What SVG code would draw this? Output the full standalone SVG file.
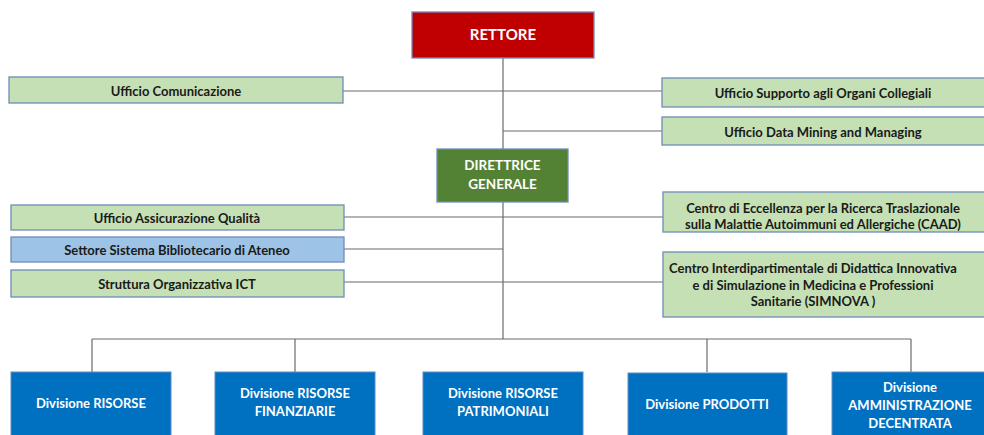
<svg xmlns="http://www.w3.org/2000/svg" width="984" height="435" viewBox="0 0 984 435">
<style>
.b{stroke:#6F8DB8;stroke-width:1.3}
.g{fill:#C5E0B4}
.lb{fill:#9DC3E6}
.dv{fill:#0070C0;stroke:#5E8CC4;stroke-width:1}
.t{font-family:Lato,"Liberation Sans",sans-serif;font-weight:700;font-size:13px;fill:#1a1a1a;text-anchor:middle}
.w{font-family:Lato,"Liberation Sans",sans-serif;font-weight:700;font-size:13px;fill:#fff;text-anchor:middle}
.c{stroke:#6b6b6b;stroke-width:1.2;fill:none}
</style>
<rect width="984" height="435" fill="#fff"/>
<g id="connectors">
<path class="c" d="M503 58V339"/>
<path class="c" d="M343 91H662"/>
<path class="c" d="M503 131H662"/>
<path class="c" d="M344 217H663"/>
<path class="c" d="M344 249H503"/>
<path class="c" d="M344 282H663"/>
<path class="c" d="M92 339H911"/>
<path class="c" d="M92 339V372M295 339V372M707 339V372M911 339V372"/>
</g>
<g id="rettore">
<rect x="412" y="12" width="182" height="46" fill="#C00000" class="b"/>
<text class="w" x="503" y="40" style="font-size:15px">RETTORE</text>
</g>
<g id="direttrice">
<rect x="437" y="149" width="131" height="53" fill="#548235" class="b"/>
<text class="w" x="502.5" y="170" style="font-size:13.5px">DIRETTRICE</text>
<text class="w" x="502.5" y="189" style="font-size:13.5px">GENERALE</text>
</g>
<g id="uff-comunicazione">
<rect x="9" y="77" width="334" height="26" class="g b"/>
<text class="t" x="176" y="96">Ufficio Comunicazione</text>
</g>
<g id="uff-supporto">
<rect x="662" y="78" width="330" height="29" class="g b"/>
<text class="t" x="823" y="97.5">Ufficio Supporto agli Organi Collegiali</text>
</g>
<g id="uff-datamining">
<rect x="662" y="117" width="330" height="28" class="g b"/>
<text class="t" x="823" y="136.5">Ufficio Data Mining and Managing</text>
</g>
<g id="uff-qualita">
<rect x="11" y="205" width="333" height="25" class="g b"/>
<text class="t" x="177" y="222.5">Ufficio Assicurazione Qualità</text>
</g>
<g id="settore-biblio">
<rect x="11" y="237" width="333" height="25" class="lb b"/>
<text class="t" x="177" y="254.5">Settore Sistema Bibliotecario di Ateneo</text>
</g>
<g id="struttura-ict">
<rect x="11" y="270" width="333" height="27" class="g b"/>
<text class="t" x="177" y="288.5">Struttura Organizzativa ICT</text>
</g>
<g id="centro-caad">
<rect x="663" y="192" width="330" height="40" class="g b"/>
<text class="t" x="823" y="212.5">Centro di Eccellenza per la Ricerca Traslazionale</text>
<text class="t" x="823" y="228.5">sulla Malattie Autoimmuni ed Allergiche (CAAD)</text>
</g>
<g id="centro-simnova">
<rect x="663" y="252" width="330" height="65" class="g b"/>
<text class="t" x="813" y="273">Centro Interdipartimentale di Didattica Innovativa</text>
<text class="t" x="813" y="289.5">e di Simulazione in Medicina e Professioni</text>
<text class="t" x="813" y="306">Sanitarie (SIMNOVA )</text>
</g>
<g id="div-risorse">
<rect x="11" y="372" width="160" height="70" class="dv"/>
<text class="w" x="91" y="408">Divisione RISORSE</text>
</g>
<g id="div-finanziarie">
<rect x="215" y="372" width="160" height="70" class="dv"/>
<text class="w" x="295" y="398">Divisione RISORSE</text>
<text class="w" x="295" y="416">FINANZIARIE</text>
</g>
<g id="div-patrimoniali">
<rect x="423" y="372" width="160" height="70" class="dv"/>
<text class="w" x="503" y="398">Divisione RISORSE</text>
<text class="w" x="503" y="416">PATRIMONIALI</text>
</g>
<g id="div-prodotti">
<rect x="628" y="373" width="159" height="70" class="dv"/>
<text class="w" x="707" y="409">Divisione PRODOTTI</text>
</g>
<g id="div-amministrazione">
<rect x="832" y="372" width="160" height="70" class="dv"/>
<text class="w" x="910" y="392">Divisione</text>
<text class="w" x="910" y="410">AMMINISTRAZIONE</text>
<text class="w" x="910" y="428">DECENTRATA</text>
</g>
</svg>
